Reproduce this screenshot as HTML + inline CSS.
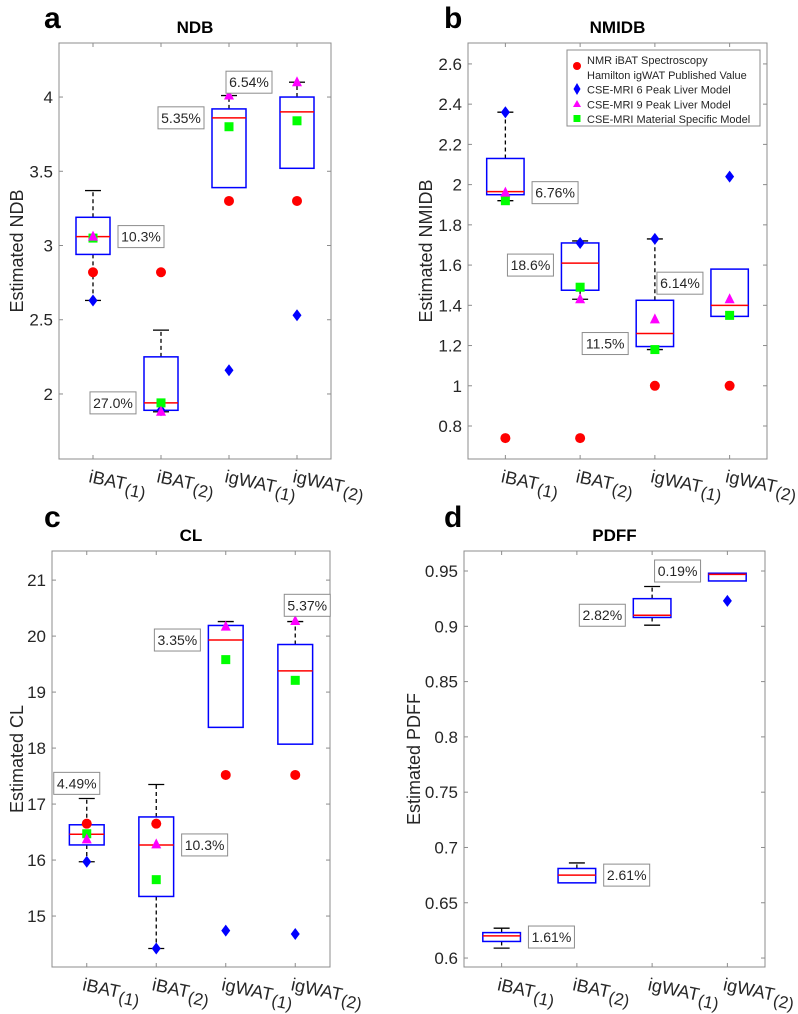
<!DOCTYPE html>
<html><head><meta charset="utf-8">
<style>
html,body{margin:0;padding:0;background:#fff;}
svg{display:block;font-family:"Liberation Sans",sans-serif;}
</style></head>
<body>
<svg id="fig" width="798" height="1014" viewBox="0 0 798 1014" xmlns="http://www.w3.org/2000/svg"></svg>
<script>
const categories = ["iBAT(1)","iBAT(2)","igWAT(1)","igWAT(2)"];

// Panel a: NDB
const aQ1 = [2.94,1.89,3.39,3.52];
const aMed = [3.06,1.94,3.86,3.90];
const aQ3 = [3.19,2.25,3.92,4.00];
const aLo = [2.63,1.88,3.39,3.52];
const aHi = [3.37,2.43,4.01,4.10];
const aRed = [2.82,2.82,3.30,3.30];
const aBlue = [2.63,1.89,2.16,2.53];
const aMag = [3.06,1.88,4.01,4.10];
const aGreen = [3.05,1.94,3.80,3.84];
const aLabels = ["10.3%","27.0%","5.35%","6.54%"];
const aLabelVal = [3.06,1.94,3.86,4.10];
const aLabelSide = ["R","L","L","L"];
const aTicks = [2,2.5,3,3.5,4];
const aTickLabels = ["2","2.5","3","3.5","4"];

// Panel b: NMIDB
const bQ1 = [1.95,1.475,1.195,1.345];
const bMed = [1.965,1.61,1.26,1.40];
const bQ3 = [2.13,1.71,1.425,1.58];
const bLo = [1.92,1.43,1.18,1.345];
const bHi = [2.36,1.72,1.73,1.58];
const bRed = [0.74,0.74,1.0,1.0];
const bBlue = [2.36,1.71,1.73,2.04];
const bMag = [1.96,1.43,1.33,1.43];
const bGreen = [1.92,1.49,1.18,1.35];
const bLabels = ["6.76%","18.6%","11.5%","6.14%"];
const bLabelVal = [1.96,1.60,1.21,1.51];
const bLabelSide = ["R","L","L","L"];
const bTicks = [0.8,1,1.2,1.4,1.6,1.8,2,2.2,2.4,2.6];
const bTickLabels = ["0.8","1","1.2","1.4","1.6","1.8","2","2.2","2.4","2.6"];

// Panel c: CL
const cQ1 = [16.27,15.35,18.37,18.07];
const cMed = [16.46,16.27,19.93,19.38];
const cQ3 = [16.63,16.77,20.19,19.85];
const cLo = [15.97,14.42,18.37,18.07];
const cHi = [17.10,17.35,20.26,20.26];
const cRed = [16.65,16.65,17.52,17.52];
const cBlue = [15.97,14.42,14.74,14.68];
const cMag = [16.37,16.28,20.17,20.27];
const cGreen = [16.47,15.65,19.58,19.21];
const cLabels = ["4.49%","10.3%","3.35%","5.37%"];
const cLabelVal = [17.37,16.27,19.93,20.55];
const cLabelSide = ["T","R","L","T"];
const cTicks = [15,16,17,18,19,20,21];
const cTickLabels = ["15","16","17","18","19","20","21"];

// Panel d: PDFF
const dQ1 = [0.615,0.668,0.908,0.941];
const dMed = [0.620,0.675,0.910,0.947];
const dQ3 = [0.623,0.681,0.925,0.948];
const dLo = [0.609,0.668,0.901,0.941];
const dHi = [0.627,0.686,0.936,0.948];
const dRed = [null,null,null,null];
const dBlue = [null,null,null,0.923];
const dMag = [null,null,null,null];
const dGreen = [null,null,null,null];
const dLabels = ["1.61%","2.61%","2.82%","0.19%"];
const dLabelVal = [0.619,0.675,0.910,0.950];
const dLabelSide = ["R","R","L","L"];
const dTicks = [0.6,0.65,0.7,0.75,0.8,0.85,0.9,0.95];
const dTickLabels = ["0.6","0.65","0.7","0.75","0.8","0.85","0.9","0.95"];

const NS = "http://www.w3.org/2000/svg";
const svg = document.getElementById("fig");
function mk(tag, attrs, parent){
  const e = document.createElementNS(NS, tag);
  for (const k in attrs) e.setAttribute(k, attrs[k]);
  (parent||svg).appendChild(e);
  return e;
}

function panel(p){
  const g = mk("g", {});
  
  
  const y = v => p.y1 - (v - p.vmin) / (p.vmax - p.vmin) * (p.y1 - p.y0);
  const step = (p.x1 - p.x0) / 4;
  const x = i => p.x0 + step * (i + 0.5);

  const letter = mk("text", {x:p.letterX, y:p.letterY, "font-size":30, "font-weight":"bold", fill:"#000"}, g);
  letter.textContent = p.key;
  
  
  const title = mk("text", {x:(p.x0+p.x1)/2, y:p.y0-10, "font-size":17, "font-weight":"bold", "text-anchor":"middle", fill:"#000"}, g);
  title.textContent = p.title;
  
  

  const frame = mk("rect", {x:p.x0, y:p.y0, width:p.x1-p.x0, height:p.y1-p.y0, fill:"none", stroke:"#8c8c8c", "stroke-width":1}, g);
  
  

  p.ticks.forEach((t,i)=>{
    const ty = y(t);
    mk("line",{x1:p.x0,x2:p.x0+4,y1:ty,y2:ty,stroke:"#8c8c8c"},g);
    mk("line",{x1:p.x1,x2:p.x1-4,y1:ty,y2:ty,stroke:"#8c8c8c"},g);
    const tl = mk("text",{x:p.x0-6,y:ty+6,"font-size":17,"text-anchor":"end",fill:"#262626"},g);
    tl.textContent = p.tickLabels[i];
    
    
  });
  const yt = mk("text",{x:0,y:0,"font-size":18,"text-anchor":"middle",fill:"#262626",transform:`translate(${p.ytX},${(p.y0+p.y1)/2}) rotate(-90)`},g);
  yt.textContent = p.ylabel;
  
  

  categories.forEach((c,i)=>{
    const cx = x(i);
    mk("line",{x1:cx,x2:cx,y1:p.y1,y2:p.y1-4,stroke:"#8c8c8c"},g);
    mk("line",{x1:cx,x2:cx,y1:p.y0,y2:p.y0+4,stroke:"#8c8c8c"},g);
    const m = c.match(/^(.*)(\(\d\))$/);
    const xl = mk("text",{x:0,y:0,"font-size":18,fill:"#262626",transform:`translate(${cx-5},${p.y1+23}) rotate(12)`},g);
    const t1 = mk("tspan",{},xl); t1.textContent = m[1];
    const t2 = mk("tspan",{dy:5,"font-size":17},xl); t2.textContent = m[2];
    
    

    const hw = step*0.25;
    const bg = mk("g",{},g);
    
    
    if (p.hi[i] > p.q3[i]+1e-9){
      mk("line",{x1:cx,x2:cx,y1:y(p.q3[i]),y2:y(p.hi[i]),stroke:"#000","stroke-dasharray":"4,3","stroke-width":1.3},bg);
      mk("line",{x1:cx-8,x2:cx+8,y1:y(p.hi[i]),y2:y(p.hi[i]),stroke:"#000","stroke-width":1.3},bg);
    }
    if (p.lo[i] < p.q1[i]-1e-9){
      mk("line",{x1:cx,x2:cx,y1:y(p.q1[i]),y2:y(p.lo[i]),stroke:"#000","stroke-dasharray":"4,3","stroke-width":1.3},bg);
      mk("line",{x1:cx-8,x2:cx+8,y1:y(p.lo[i]),y2:y(p.lo[i]),stroke:"#000","stroke-width":1.3},bg);
    }
    mk("rect",{x:cx-hw,y:y(p.q3[i]),width:hw*2,height:Math.max(1,y(p.q1[i])-y(p.q3[i])),fill:"none",stroke:"#0000ff","stroke-width":1.5},bg);
    mk("line",{x1:cx-hw,x2:cx+hw,y1:y(p.med[i]),y2:y(p.med[i]),stroke:"#ff0000","stroke-width":1.5},bg);

    if (p.red[i]!=null){ const e=mk("circle",{cx:cx,cy:y(p.red[i]),r:5,fill:"#ff0000"},g);   }
    if (p.blue[i]!=null){ const by=y(p.blue[i]); const e=mk("polygon",{points:`${cx},${by-6} ${cx+4.5},${by} ${cx},${by+6} ${cx-4.5},${by}`,fill:"#0000ff"},g);   }
    if (p.green[i]!=null){ const gy=y(p.green[i]); const e=mk("rect",{x:cx-4.5,y:gy-4.5,width:9,height:9,fill:"#00ff00"},g);   }
    if (p.mag[i]!=null){ const my=y(p.mag[i]); const e=mk("polygon",{points:`${cx},${my-6} ${cx+5},${my+4} ${cx-5},${my+4}`,fill:"#ff00ff"},g);   }

    const w = 46, h = 22;
    let lx, ly = y(p.labelVal[i]);
    if (p.labelSide[i]==="R") lx = cx + hw + 8 + w/2;
    else if (p.labelSide[i]==="L") lx = cx - hw - 8 - w/2;
    else { lx = cx + (i===0 ? -10 : 12); }
    const lg = mk("g",{},g);
    
    
    mk("rect",{x:lx-w/2,y:ly-h/2,width:w,height:h,fill:"#fff",stroke:"#8c8c8c","stroke-width":1},lg);
    const lt = mk("text",{x:lx,y:ly+5,"font-size":14,"text-anchor":"middle",fill:"#262626"},lg);
    lt.textContent = p.labels[i];
  });
  return g;
}

panel({key:"a",title:"NDB",ylabel:"Estimated NDB",x0:59,x1:331,y0:43,y1:459,vmin:1.562,vmax:4.364,letterX:44,letterY:28,ytX:23,
  q1:aQ1,med:aMed,q3:aQ3,lo:aLo,hi:aHi,red:aRed,blue:aBlue,mag:aMag,green:aGreen,labels:aLabels,labelVal:aLabelVal,labelSide:aLabelSide,ticks:aTicks,tickLabels:aTickLabels});
panel({key:"b",title:"NMIDB",ylabel:"Estimated NMIDB",x0:468,x1:767,y0:43,y1:459,vmin:0.636,vmax:2.704,letterX:444,letterY:28,ytX:432,
  q1:bQ1,med:bMed,q3:bQ3,lo:bLo,hi:bHi,red:bRed,blue:bBlue,mag:bMag,green:bGreen,labels:bLabels,labelVal:bLabelVal,labelSide:bLabelSide,ticks:bTicks,tickLabels:bTickLabels});
panel({key:"c",title:"CL",ylabel:"Estimated CL",x0:52,x1:330,y0:551,y1:967,vmin:14.09,vmax:21.52,letterX:44,letterY:527,ytX:23,
  q1:cQ1,med:cMed,q3:cQ3,lo:cLo,hi:cHi,red:cRed,blue:cBlue,mag:cMag,green:cGreen,labels:cLabels,labelVal:cLabelVal,labelSide:cLabelSide,ticks:cTicks,tickLabels:cTickLabels});
panel({key:"d",title:"PDFF",ylabel:"Estimated PDFF",x0:464,x1:765,y0:551,y1:967,vmin:0.5919,vmax:0.9681,letterX:444,letterY:527,ytX:420,
  q1:dQ1,med:dMed,q3:dQ3,lo:dLo,hi:dHi,red:dRed,blue:dBlue,mag:dMag,green:dGreen,labels:dLabels,labelVal:dLabelVal,labelSide:dLabelSide,ticks:dTicks,tickLabels:dTickLabels});

// Legend (panel b)
const legendText = ["NMR iBAT Spectroscopy","Hamilton igWAT Published Value","CSE-MRI 6 Peak Liver Model","CSE-MRI 9 Peak Liver Model","CSE-MRI Material Specific Model"];
const lgnd = mk("g",{});


mk("rect",{x:567,y:50,width:193,height:76,fill:"#fff",stroke:"#8c8c8c"},lgnd);
legendText.forEach((t,i)=>{
  const tx = mk("text",{x:587,y:64+i*14.8,"font-size":11,fill:"#262626"},lgnd);
  tx.textContent = t;
  
  
});
mk("circle",{cx:577,cy:66,r:4,fill:"#ff0000"},lgnd);
mk("polygon",{points:"577,83 580.5,89 577,95 573.5,89",fill:"#0000ff"},lgnd);
mk("polygon",{points:"577,100 581,107 573,107",fill:"#ff00ff"},lgnd);
mk("rect",{x:573.5,y:115,width:7,height:7,fill:"#00ff00"},lgnd);
</script>
</body></html>
